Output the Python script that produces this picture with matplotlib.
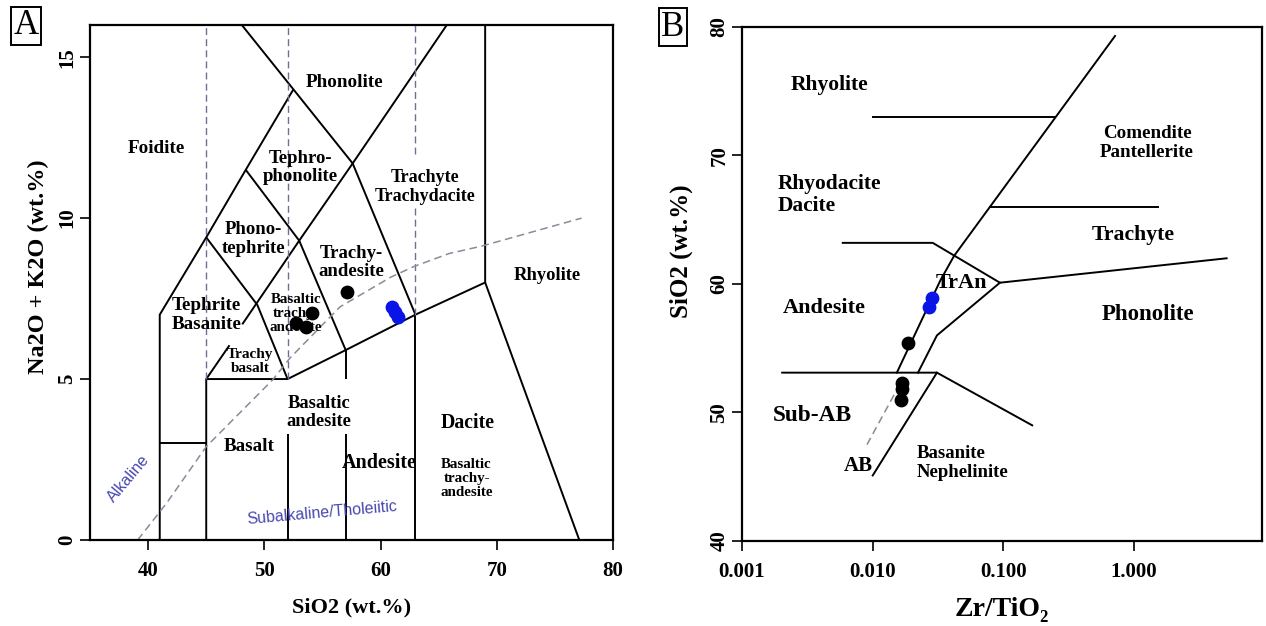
import matplotlib
matplotlib.use('Agg')
import matplotlib.pyplot as plt

plt.rcParams['font.family'] = ['Liberation Serif', 'DejaVu Serif']
plt.rcParams['font.weight'] = 'bold'
plt.rcParams['axes.labelweight'] = 'bold'

# ---- Panel A: TAS diagram (SiO2 vs Na2O+K2O) ----
tas_x_ticks = [40, 50, 60, 70, 80]
tas_y_ticks = [0, 5, 10, 15]

# field boundaries, each a polyline of (SiO2, alkali) pairs
tas_lines = [
    [(41, 0), (41, 7), (45, 9.4), (48.4, 11.5), (52.5, 14)],
    [(48.06, 16), (52.5, 14), (57.6, 11.7), (63, 7)],
    [(41, 3), (45, 3)],
    [(45, 0), (45, 5), (52, 5), (57, 5.9), (63, 7), (69, 8)],
    [(45, 9.4), (49.4, 7.3), (52, 5)],
    [(48.4, 11.5), (53, 9.3), (57, 5.9)],
    [(45, 5), (47.0, 6.05)],
    [(48.1, 6.7), (53, 9.3), (57.6, 11.7), (65.7, 16)],
    [(52, 0), (52, 3.3)],
    [(57, 0), (57, 3.3)],
    [(57, 5.0), (57, 5.9)],
    [(63, 0), (63, 7)],
    [(69, 16), (69, 8), (77.1, 0)],
]
tas_dashed = [
    [(45, 5), (45, 16)],
    [(52, 5), (52, 16)],
    [(63, 7), (63, 10.3)],
    [(63, 12.0), (63, 16)],
]
alk_x = [39.1, 41.6, 45.0, 50.7, 52.2, 56.5, 60.9, 62.9, 65.9, 68.7, 77.3]
alk_y = [0.0, 1.15, 2.9, 4.97, 5.65, 7.24, 8.17, 8.5, 8.9, 9.13, 10.0]

tas_labels = [
    ("Foidite", 40.7, 12.17, 13.8),
    ("Phonolite", 56.9, 14.2, 13.8),
    ("Tephro-\nphonolite", 53.1, 11.57, 13.5),
    ("Phono-\ntephrite", 49.1, 9.35, 13.5),
    ("Trachyte\nTrachydacite", 63.8, 10.97, 13),
    ("Trachy-\nandesite", 57.5, 8.62, 13.5),
    ("Tephrite\nBasanite", 45.0, 6.99, 13.8),
    ("Basaltic\ntrachy-\nandesite", 52.7, 7.05, 10.8),
    ("Trachy\nbasalt", 48.8, 5.56, 11),
    ("Basaltic\nandesite", 54.7, 3.96, 13.3),
    ("Basalt", 48.7, 2.89, 13.8),
    ("Andesite", 59.9, 2.4, 14.5),
    ("Dacite", 67.5, 3.63, 14.2),
    ("Basaltic\ntrachy-\nandesite", 67.4, 1.9, 10.8),
    ("Rhyolite", 74.3, 8.23, 13.3),
]

tas_black_x = [57.1, 54.06, 52.7, 53.6]
tas_black_y = [7.7, 7.05, 6.74, 6.62]
tas_blue_x = [61.0, 61.25, 61.5]
tas_blue_y = [7.25, 7.08, 6.93]

# ---- Panel B: Zr/TiO2 vs SiO2 ----
b_x_ticks = [0.001, 0.01, 0.1, 1.0]
b_x_ticklabels = ["0.001", "0.010", "0.100", "1.000"]
b_y_ticks = [40, 50, 60, 70, 80]

b_lines = [
    [(0.0153, 53.1), (0.033, 60.3), (0.042, 62.2), (0.714, 79.3)],
    [(0.01, 73.0), (0.248, 73.0)],
    [(0.079, 66.0), (1.52, 66.0)],
    [(0.0059, 63.2), (0.0288, 63.2), (0.094, 60.1), (5.1, 62.0)],
    [(0.094, 60.1), (0.031, 56.0), (0.0222, 53.1)],
    [(0.00203, 53.1), (0.031, 53.1), (0.166, 49.0)],
    [(0.031, 53.1), (0.01, 45.1)],
]
b_dashed_x = [0.00904, 0.0148]
b_dashed_y = [47.5, 51.5]

b_labels = [
    ("Rhyolite", 0.0047, 75.5, 15.5, 'center'),
    ("Rhyodacite\nDacite", 0.00188, 66.9, 15.4, 'left'),
    ("Andesite", 0.00423, 58.1, 16, 'center'),
    ("TrAn", 0.048, 60.1, 16, 'center'),
    ("Comendite\nPantellerite", 1.256, 71.0, 13.7, 'center'),
    ("Trachyte", 0.98, 63.8, 15.7, 'center'),
    ("Phonolite", 1.28, 57.6, 16.5, 'center'),
    ("Sub-AB", 0.00344, 49.8, 16.8, 'center'),
    ("AB", 0.0078, 45.8, 15, 'center'),
    ("Basanite\nNephelinite", 0.0218, 46.1, 13.5, 'left'),
]

b_black_x = [0.0186, 0.0168, 0.0168, 0.0165]
b_black_y = [55.4, 52.3, 51.8, 51.0]
b_blue_x = [0.0284, 0.027]
b_blue_y = [58.9, 58.2]

fig = plt.figure(figsize=(12.66, 6.26), dpi=100)
axA = fig.add_axes([0.0711, 0.1374, 0.4131, 0.8227])
axB = fig.add_axes([0.5861, 0.1358, 0.4107, 0.8211])

lw = 1.4
for seg in tas_lines:
    xs, ys = zip(*seg)
    axA.plot(xs, ys, color='black', lw=lw, solid_capstyle='butt')
for seg in tas_dashed:
    xs, ys = zip(*seg)
    axA.plot(xs, ys, color='#6f6f95', lw=1.0, ls=(0, (5, 3)))
axA.plot(alk_x, alk_y, color='#8a8a9a', lw=1.1, ls=(0, (5, 3)))

for txt, x, y, fs in tas_labels:
    axA.text(x, y, txt, fontsize=fs, ha='center', va='center', linespacing=1.1)

axA.text(38.3, 1.9, "Alkaline", family='Liberation Sans', fontweight='normal',
         fontsize=11.5, color='#4848b0', rotation=50, ha='center', va='center')
axA.text(55.0, 0.85, "Subalkaline/Tholeiitic", family='Liberation Sans', fontweight='normal',
         fontsize=11.5, color='#4848b0', rotation=5, ha='center', va='center')

axA.scatter(tas_black_x, tas_black_y, s=80, color='black', zorder=5)
axA.scatter(tas_blue_x, tas_blue_y, s=80, color='#0a14e6', zorder=5)

axA.set_xlim(35, 80)
axA.set_ylim(0, 16)
axA.set_xticks(tas_x_ticks)
axA.set_yticks(tas_y_ticks)
axA.set_xlabel("SiO2 (wt.%)", fontsize=16, labelpad=12)
axA.set_ylabel("Na2O + K2O (wt.%)", fontsize=17.5)
axA.yaxis.set_label_coords(-0.078, 0.53)

for seg in b_lines:
    xs, ys = zip(*seg)
    axB.plot(xs, ys, color='black', lw=lw)
axB.plot(b_dashed_x, b_dashed_y, color='#8a8a8a', lw=1.1, ls=(0, (5, 3)))

for txt, x, y, fs, ha in b_labels:
    axB.text(x, y, txt, fontsize=fs, ha=ha, va='center', linespacing=1.15)

axB.scatter(b_black_x, b_black_y, s=80, color='black', zorder=5)
axB.scatter(b_blue_x, b_blue_y, s=80, color='#0a14e6', zorder=5)

axB.set_xscale('log')
axB.set_xlim(0.001, 9.5)
axB.set_ylim(40, 80)
axB.set_xticks(b_x_ticks)
axB.set_xticklabels(b_x_ticklabels)
axB.minorticks_off()
axB.set_yticks(b_y_ticks)
axB.set_xlabel("Zr/TiO\u2082", fontsize=20, labelpad=11)
axB.set_ylabel("SiO2 (wt.%)", fontsize=18)
axB.yaxis.set_label_coords(-0.094, 0.564)

for ax in (axA, axB):
    for sp in ax.spines.values():
        sp.set_linewidth(1.6)
    ax.tick_params(direction='out', length=7, width=1.2, labelsize=15)
    ax.tick_params(axis='x', pad=8)
    ax.tick_params(axis='y', pad=2)
    for lbl in ax.get_yticklabels():
        lbl.set_rotation(90)
        lbl.set_va('center')

fig.text(26 / 1266, 1 - 26 / 626, "A", fontsize=25, fontweight='normal', ha='center', va='center',
         bbox=dict(boxstyle='square,pad=0.08', fc='white', ec='black', lw=1.4))
fig.text(673 / 1266, 1 - 27 / 626, "B", fontsize=25, fontweight='normal', ha='center', va='center',
         bbox=dict(boxstyle='square,pad=0.08', fc='white', ec='black', lw=1.4))

fig.savefig("out.png", dpi=100)
